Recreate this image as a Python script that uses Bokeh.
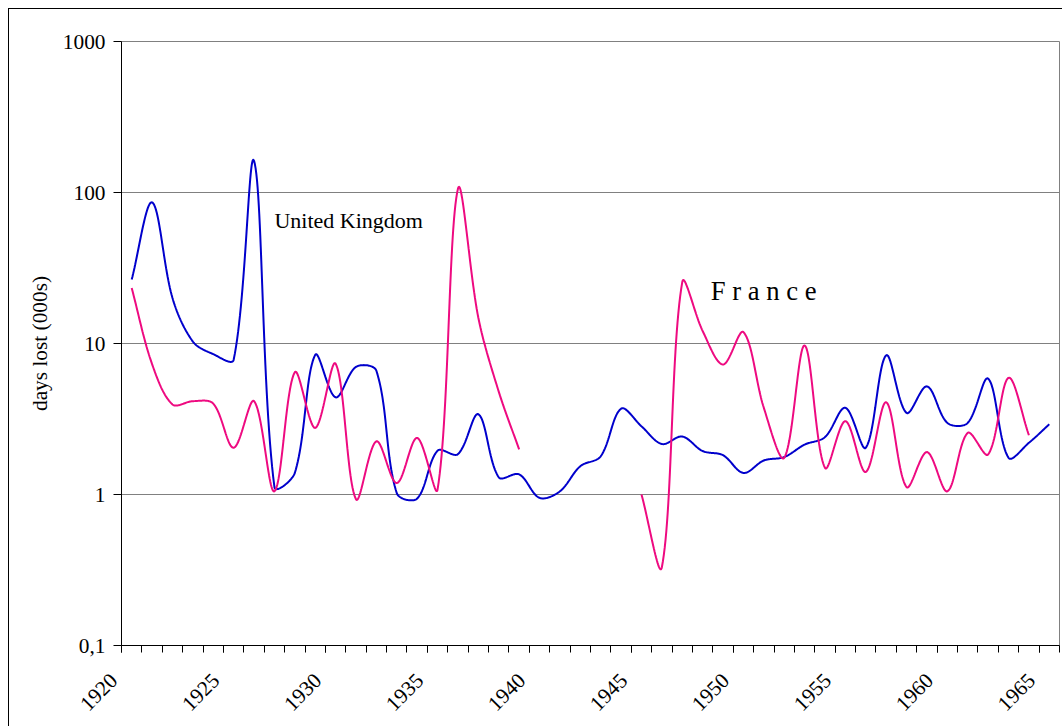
import math
import numpy as np
from bokeh.plotting import figure
from bokeh.models import FixedTicker, Range1d
from bokeh.core.properties import value
from bokeh.embed import file_html
from bokeh.resources import INLINE

# ---------------- data ----------------
years = list(range(1920, 1966))
uk_days = [26.5, 86, 20.0, 10.3, 8.5, 7.8, 162, 1.12, 1.39, 8.4, 4.4, 7.0, 6.6, 1.02,
           0.94, 1.95, 1.85, 3.4, 1.3, 1.36, 0.95, 1.05, 1.54, 1.79, 3.7, 2.83,
           2.16, 2.42, 1.94, 1.82, 1.39, 1.68, 1.77, 2.14, 2.4, 3.75, 2.04, 8.35,
           3.47, 5.2, 2.98, 2.98, 5.85, 1.75, 2.2, 2.92]
france_days = [23.3, 7.3, 3.95, 4.15, 4.0, 2.04, 4.15, 1.05, 6.45, 2.76, 7.35, 0.93,
               2.25, 1.19, 2.37, 1.08, 106, 14.8, 4.8, 1.99, None, None, None, None,
               None, 1.0, 0.33, 25.5, 12.1, 7.26, 11.9, 3.75, 1.75, 9.7, 1.5, 3.06,
               1.41, 4.08, 1.12, 1.91, 1.05, 2.56, 1.84, 5.92, 2.47, None]
x_tick_years = [1920, 1925, 1930, 1935, 1940, 1945, 1950, 1955, 1960, 1965]
x_tick_labels = [str(y) for y in x_tick_years]
y_ticks = [0.1, 1, 10, 100, 1000]
y_tick_labels = ["0,1", "1", "10", "100", "1000"]
y_title = "days lost (000s)"
uk_label = "United Kingdom"
france_label = "F r a n c e"

FONT = "Liberation Serif"
UK_COLOR = "#0000CC"
FR_COLOR = "#EE0A80"

# screen scale used for Excel-like smoothing (pixels per year, per decade)
PX_YEAR = 20.4
PX_DECADE = 151.0
PAD = "\u00a0\u00a0"  # nudges the rotated category labels down-left, as in Excel


def smooth(xs, vs, n=30):
    """Excel-like smoothed line: Bezier segments in screen-proportional space,
    tangents split in proportion to neighbouring segment lengths."""
    X = np.array(xs, dtype=float) * PX_YEAR
    Y = np.log10(np.array(vs, dtype=float)) * PX_DECADE
    m = len(X)
    P = np.stack([X, Y], axis=1)
    ctrl_out, ctrl_in = [], []
    for i in range(m):
        prev = P[max(i - 1, 0)]
        nxt = P[min(i + 1, m - 1)]
        T = nxt - prev
        lp = np.linalg.norm(P[i] - prev)
        ln = np.linalg.norm(nxt - P[i])
        s = lp + ln
        if s == 0:
            fo = fi = 0.0
        else:
            fo = ln / s / 3.0
            fi = lp / s / 3.0
        ctrl_out.append(P[i] + T * fo)
        ctrl_in.append(P[i] - T * fi)
    ox, oy = [], []
    for i in range(m - 1):
        p0, p3 = P[i], P[i + 1]
        c1, c2 = ctrl_out[i], ctrl_in[i + 1]
        t = np.linspace(0, 1, n, endpoint=(i == m - 2))[:, None]
        B = ((1 - t) ** 3) * p0 + 3 * ((1 - t) ** 2) * t * c1 + 3 * (1 - t) * t ** 2 * c2 + t ** 3 * p3
        ox.extend(B[:, 0] / PX_YEAR)
        oy.extend(B[:, 1] / PX_DECADE)
    return list(ox), list(10 ** np.array(oy))


def runs(xs, vs):
    out, cur = [], []
    for x, v in zip(xs, vs):
        if v is None:
            if cur:
                out.append(cur)
            cur = []
        else:
            cur.append((x, v))
    if cur:
        out.append(cur)
    return out


p = figure(width=1054, height=718,
           x_range=Range1d(years[0] - 0.5, years[-1] + 0.5),
           y_range=Range1d(y_ticks[0], y_ticks[-1]),
           y_axis_type="log",
           output_backend="svg", toolbar_location=None,
           min_border_left=112, min_border_top=32, min_border_right=4,
           min_border_bottom=82,
           background_fill_color="white", border_fill_color="white")
p.styles = {"margin-left": "8px", "margin-top": "8px",
            "border-left": "1px solid #000000", "border-top": "1px solid #000000"}

p.outline_line_color = "#808080"
p.outline_line_width = 1

# grid
p.xgrid.visible = False
p.ygrid.ticker = FixedTicker(ticks=y_ticks[1:])
p.ygrid.grid_line_color = "#808080"
p.ygrid.grid_line_width = 1

# x axis: tick marks between categories; labels hang from the boundary
# left of each labelled category
boundaries = [y - 0.5 for y in years] + [years[-1] + 0.5]
label_ticks = [y - 0.5 for y in x_tick_years]
xa = p.xaxis[0]
xa.ticker = FixedTicker(ticks=label_ticks, minor_ticks=boundaries)
xa.major_label_overrides = {t: lab + PAD for t, lab in zip(label_ticks, x_tick_labels)}
xa.major_tick_line_color = "black"
xa.major_tick_out = 7
xa.major_tick_in = 0
xa.minor_tick_line_color = "black"
xa.minor_tick_out = 7
xa.minor_tick_in = 0
xa.axis_line_color = "black"
xa.major_label_orientation = math.pi / 4
xa.major_label_text_font = FONT
xa.major_label_text_font_size = "16pt"
xa.major_label_text_color = "black"
xa.major_label_standoff = 17

# y axis
ya = p.yaxis[0]
ya.ticker = FixedTicker(ticks=y_ticks)
ya.major_label_overrides = {float(t): lab for t, lab in zip(y_ticks, y_tick_labels)}
ya.minor_tick_line_color = None
ya.major_tick_out = 8
ya.major_tick_in = 0
ya.major_tick_line_color = "black"
ya.axis_line_color = "black"
ya.major_label_text_font = FONT
ya.major_label_text_font_size = "16pt"
ya.major_label_text_color = "black"
ya.major_label_standoff = 8
ya.axis_label = y_title
ya.axis_label_text_font = FONT
ya.axis_label_text_font_size = "16pt"
ya.axis_label_text_font_style = "normal"
ya.axis_label_text_color = "black"
ya.axis_label_standoff = 8

# lines
for run in runs(years, uk_days):
    sx, sy = smooth([r[0] for r in run], [r[1] for r in run])
    p.line(sx, sy, line_color=UK_COLOR, line_width=2)
for run in runs(years, france_days):
    sx, sy = smooth([r[0] for r in run], [r[1] for r in run])
    p.line(sx, sy, line_color=FR_COLOR, line_width=2)

# series labels
p.text(x=[1927.0], y=[65.0], text=[uk_label], text_font=value(FONT),
       text_font_size="22px", text_align="left", text_baseline="alphabetic",
       text_color="black")
p.text(x=[1948.4], y=[22.4], text=[france_label], text_font=value(FONT),
       text_font_size="20pt", text_align="left", text_baseline="alphabetic",
       text_color="black")

open("out.html", "w").write(file_html(p, INLINE))
